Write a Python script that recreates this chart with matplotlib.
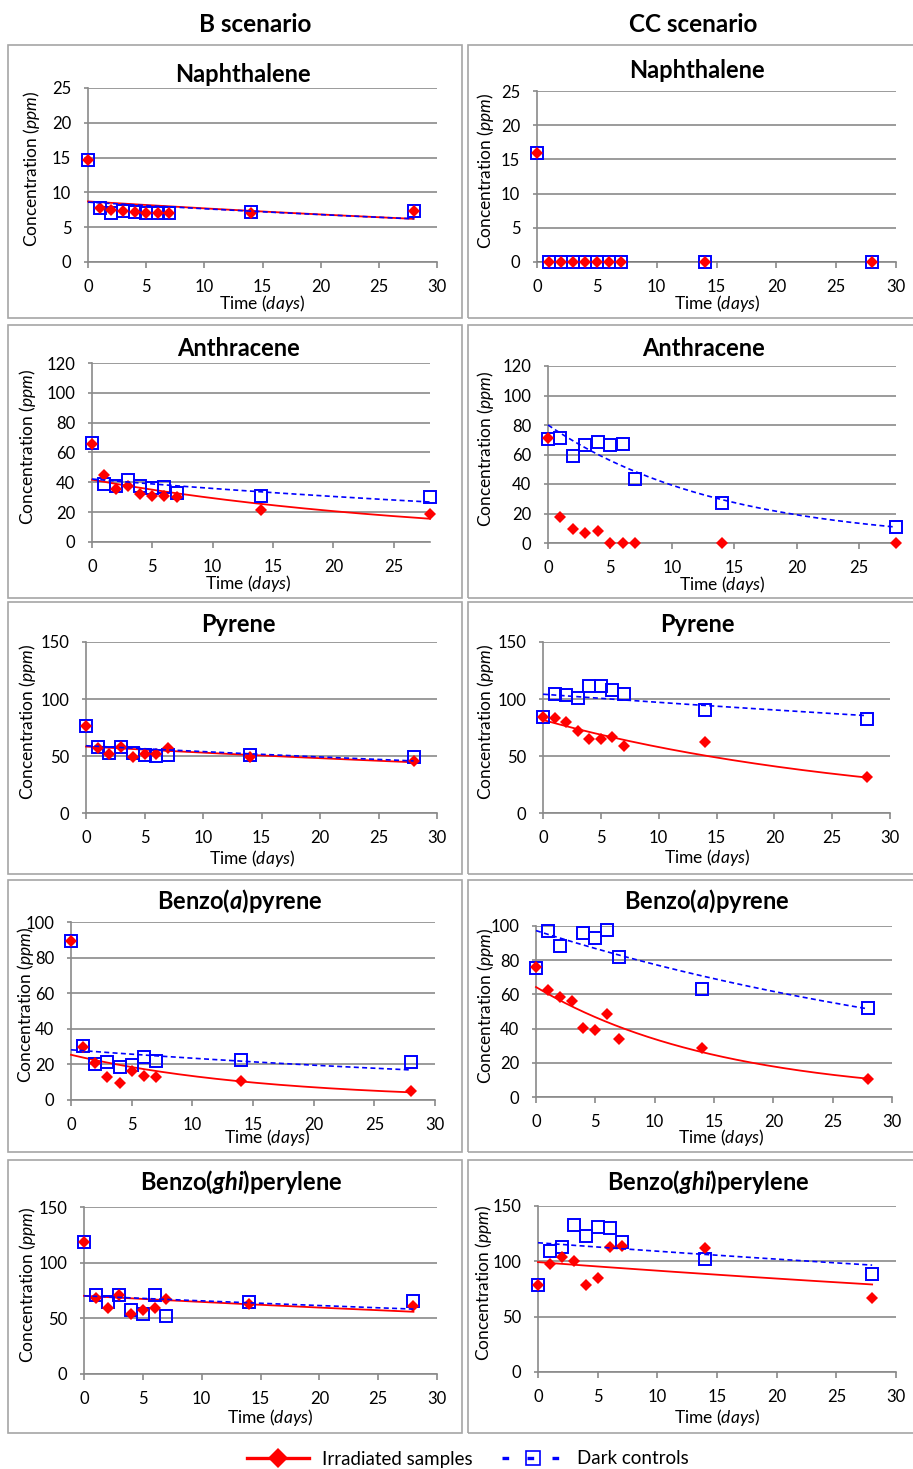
import numpy as np
import matplotlib
matplotlib.use('Agg')
import matplotlib.pyplot as plt
from matplotlib.lines import Line2D
from matplotlib.patches import Rectangle

plt.rcParams['font.family'] = ['Lato', 'DejaVu Sans']
plt.rcParams['mathtext.fontset'] = 'custom'
plt.rcParams['mathtext.rm'] = 'Lato'
plt.rcParams['mathtext.it'] = 'Lato:italic'
plt.rcParams['mathtext.bf'] = 'Lato:bold'
plt.rcParams['mathtext.bfit'] = 'Lato:bold:italic'

# ---------------- data ----------------
days = [0, 1, 2, 3, 4, 5, 6, 7, 14, 28]
nan = float('nan')

titles = ['Naphthalene', 'Anthracene', 'Pyrene',
          'Benzo($\\mathbfit{a}$)pyrene', 'Benzo($\\mathbfit{ghi}$)perylene']
scenarios = ['B scenario', 'CC scenario']

# B scenario
b_naph_irr = [14.6, 7.8, 7.45, 7.35, 7.2, 7.1, 7.1, 7.1, 7.1, 7.3]
b_naph_dark = [14.6, 7.7, 7.1, 7.35, 7.2, 7.1, 7.1, 7.1, 7.2, 7.3]
b_anth_irr = [66, 44.7, 35.8, 37.5, 32, 30.6, 30.6, 30.5, 21.2, 18.5]
b_anth_dark = [66.6, 38.7, 37.3, 41.8, 37.3, 36.2, 36.9, 32.8, 30.8, 30.2]
b_pyr_irr = [76.3, 57.4, 51.8, 58.3, 49.5, 51.8, 51.8, 56.8, 49.5, 45.7]
b_pyr_dark = [76.3, 58.3, 52.4, 58.3, 53, 51, 50.4, 51, 51, 49.5]
b_bap_irr = [89.3, 30, 20.7, 12.8, 9.8, 16.5, 13.5, 13.2, 10.9, 5.3]
b_bap_dark = [89.3, 30.5, 20.1, 21.2, 18.4, 19.7, 24, 22, 22.2, 21.2]
b_bghi_irr = [118.6, 68.4, 59.5, 71.4, 53.5, 57.4, 58.9, 67.8, 63.3, 61.3]
b_bghi_dark = [118.6, 70.8, 64.8, 70.8, 57.4, 53.8, 70.8, 52, 64.8, 65.7]

# CC scenario
cc_naph_irr = [15.9, 0, 0, 0, 0, 0, 0, 0, 0, 0]
cc_naph_dark = [15.9, 0, 0, 0, 0, 0, 0, 0, 0, 0]
cc_anth_irr = [71, 17.6, 9.7, 6.8, 7.9, 0, 0, 0, 0, 0]
cc_anth_dark = [70.8, 71, 58.7, 66.3, 68.4, 66.3, 66.8, 43.5, 27, 10.6]
cc_pyr_irr = [84.5, 83, 80, 72.2, 64.6, 64.6, 66.3, 59, 62.5, 31.7]
cc_pyr_dark = [84, 104.5, 103.6, 100.7, 111, 111.8, 108, 104.5, 90.4, 82.5]
cc_bap_irr = [75.9, 62.3, 58.4, 56.3, 40.4, 39, 48.7, 34.2, 28.7, 10.3]
cc_bap_dark = [75.7, 97.3, 88.3, nan, 95.7, 92.8, 97.7, 81.7, 63.1, 52]
cc_bghi_irr = [79, 98, 104, 100.2, 79, 84.5, 113, 114, 111.7, 67.3]
cc_bghi_dark = [78.5, 109.6, 113.2, 132.8, 122.8, 130.7, 130.4, 117.1, 102, 89]

# exponential trend lines (value at day 0, value at day 28)
trend_days = [0, 28]
b_trend_irr = [(8.7, 6.2), (41.8, 15.6), (58.3, 44.5), (25.4, 4.3), (70.2, 55.9)]
b_trend_dark = [(8.6, 6.2), (42.2, 26.8), (59.0, 45.7), (28.2, 16.9), (70.2, 58.3)]
cc_trend_irr = [None, None, (81.6, 31.1), (64.3, 10.7), (99.3, 79.1)]
cc_trend_dark = [None, (80.0, 10.8), (104.2, 85.4), (97.3, 51.5), (116.8, 96.6)]
cc_zero_line = [0, 0]

y_max = [25, 120, 150, 100, 150]
y_step = [5, 20, 50, 20, 50]
x_max = [30, 28, 30, 30, 30]

irr_data = [[b_naph_irr, b_anth_irr, b_pyr_irr, b_bap_irr, b_bghi_irr],
            [cc_naph_irr, cc_anth_irr, cc_pyr_irr, cc_bap_irr, cc_bghi_irr]]
dark_data = [[b_naph_dark, b_anth_dark, b_pyr_dark, b_bap_dark, b_bghi_dark],
             [cc_naph_dark, cc_anth_dark, cc_pyr_dark, cc_bap_dark, cc_bghi_dark]]
trend_irr = [b_trend_irr, cc_trend_irr]
trend_dark = [b_trend_dark, cc_trend_dark]

# ---------------- layout (pixels) ----------------
W, H = 913, 1469
fig = plt.figure(figsize=(W / 100, H / 100), dpi=100)

# plot areas: (left, right, top, bottom)
areas = [[(88, 437, 88, 262), (92, 430, 363, 542), (86, 437, 642, 813),
          (71, 435, 922, 1100), (84, 437, 1207, 1374)],
         [(537, 896, 91, 262), (548, 896, 366, 543), (543, 890, 642, 813),
          (536, 892, 926, 1097), (538, 896, 1206, 1372)]]
title_pos = [[(243, 74), (238, 348), (238, 624), (240, 901), (241, 1182)],
             [(697, 70), (703, 348), (697, 624), (707, 901), (708, 1182)]]
xlab_pos = [[(262, 303), (248, 583), (252, 859), (267, 1138), (270, 1418)],
            [(717, 303), (722, 585), (707, 858), (721, 1138), (717, 1418)]]
ylab_x = [[32, 28, 27, 26, 28], [485, 485, 485, 485, 483]]
boxes_y = [(45, 318), (325, 598), (602, 874), (880, 1152), (1160, 1433)]
boxes_x = [(8, 462), (468, 925)]
header_pos = [(255, 24), (693, 24)]

RED = '#ff0000'
BLUE = '#0000ff'
GRID = '#8a8a8a'
FS = 12.5
TFS = 12


def fx(x):
    return x / W


def fy(y):
    return 1 - y / H


# panel frames
for (x0, x1) in boxes_x:
    for (y0, y1) in boxes_y:
        fig.patches.append(Rectangle((fx(x0), fy(y1)), fx(x1) - fx(x0), fy(y0) - fy(y1),
                                     transform=fig.transFigure, fill=False,
                                     edgecolor='#a6a6a6', linewidth=1.2, zorder=0))

for c in range(2):
    fig.text(fx(header_pos[c][0]), fy(header_pos[c][1]), scenarios[c],
             fontsize=17.5, fontweight='bold', ha='center', va='center')
    for r in range(5):
        l, rr, t, b = areas[c][r]
        ax = fig.add_axes([fx(l), fy(b), fx(rr) - fx(l), fy(t) - fy(b)])
        ax.set_xlim(0, x_max[r])
        ax.set_ylim(0, y_max[r])
        ax.set_yticks(np.arange(0, y_max[r] + 0.1, y_step[r]))
        ax.set_xticks(np.arange(0, x_max[r] + 0.1, 5))
        for s in ['top', 'right']:
            ax.spines[s].set_visible(False)
        for s in ['left', 'bottom']:
            ax.spines[s].set_color(GRID)
            ax.spines[s].set_linewidth(1.2)
        ax.yaxis.grid(True, color=GRID, linewidth=1.2)
        ax.set_axisbelow(True)
        ax.tick_params(axis='both', colors=GRID, labelcolor='black', labelsize=TFS,
                       direction='out', width=1.2)
        ax.tick_params(axis='x', length=4, pad=8)
        ax.tick_params(axis='y', length=3, pad=9)

        irr = np.array(irr_data[c][r], dtype=float)
        dark = np.array(dark_data[c][r], dtype=float)

        ax.plot(days, dark, linestyle='none', marker='s', markersize=8.5,
                markerfacecolor='none', markeredgecolor=BLUE, markeredgewidth=1.4,
                clip_on=False, zorder=4)
        ax.plot(days, irr, linestyle='none', marker='D', markersize=6.5,
                markerfacecolor=RED, markeredgecolor=RED, markeredgewidth=0,
                clip_on=False, zorder=5)

        tt = np.linspace(trend_days[0], trend_days[1], 200)
        ti = trend_irr[c][r]
        if ti is not None:
            ax.plot(tt, ti[0] * (ti[1] / ti[0]) ** (tt / trend_days[1]), color=RED,
                    linewidth=1.3, zorder=3, clip_on=False)
        td = trend_dark[c][r]
        if td is not None:
            ax.plot(tt, td[0] * (td[1] / td[0]) ** (tt / trend_days[1]), color=BLUE,
                    linewidth=1.2, linestyle=(0, (3, 2)), zorder=6, clip_on=False)
        if c == 1 and r == 0:
            ax.plot(trend_days, cc_zero_line, color='black', linewidth=0.9, zorder=3)

        fig.text(fx(title_pos[c][r][0]), fy(title_pos[c][r][1]), titles[r],
                 fontsize=17, fontweight='bold', ha='center', va='center')
        fig.text(fx(xlab_pos[c][r][0]), fy(xlab_pos[c][r][1]), 'Time ($\\mathit{days}$)',
                 fontsize=FS, ha='center', va='center')
        fig.text(fx(ylab_x[c][r]), (fy(t) + fy(b)) / 2 + 0.004,
                 'Concentration ($\\mathit{ppm}$)', fontsize=FS, rotation=90,
                 ha='center', va='center')

handles = [Line2D([], [], color=RED, linewidth=2.4, marker='D', markersize=10,
                  markerfacecolor=RED, markeredgewidth=0),
           Line2D([], [], color=BLUE, linewidth=2.4, linestyle=(0, (2, 5.5)), marker='s',
                  markersize=10, markerfacecolor='none', markeredgecolor=BLUE,
                  markeredgewidth=1.2)]
fig.legend(handles, ['Irradiated samples', 'Dark controls'], loc='center',
           bbox_to_anchor=(fx(468), fy(1459)), ncol=2, frameon=False,
           fontsize=13.5, handlelength=3.3, columnspacing=1.6, handletextpad=0.7)

fig.savefig('out.png', dpi=100)
